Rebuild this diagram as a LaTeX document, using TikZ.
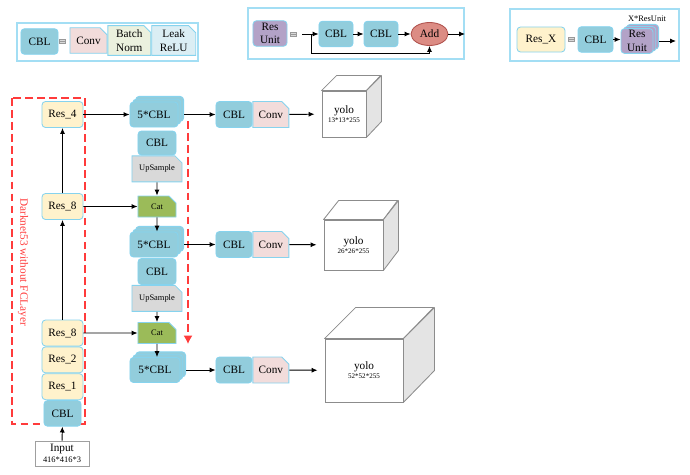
\documentclass[tikz,border=0pt]{standalone}
\usepackage{fontspec}
\setmainfont{Liberation Serif}
\usetikzlibrary{arrows.meta, positioning, calc, shapes.misc, shapes.geometric, shadows}
\definecolor{CblFill}{HTML}{92CDDC}
\definecolor{EdgeBlue}{HTML}{86D3EE}
\definecolor{FrameBlue}{HTML}{A3DEF4}
\definecolor{ResFill}{HTML}{FFF2CC}
\definecolor{ConvFill}{HTML}{F2DCDB}
\definecolor{NormFill}{HTML}{EBF1DE}
\definecolor{ReluFill}{HTML}{DBEEF4}
\definecolor{UnitFill}{HTML}{B3A2C7}
\definecolor{AddFill}{HTML}{DC8C84}
\definecolor{AddEdge}{HTML}{B0524D}
\definecolor{UpFill}{HTML}{D9D9D9}
\definecolor{CatFill}{HTML}{9BBB59}
\definecolor{DashRed}{HTML}{FF3B3B}
\definecolor{CubeSide}{HTML}{E4E4E4}
\definecolor{CubeEdge}{HTML}{8C8C8C}

\begin{document}
\begin{tikzpicture}[
    x=0.025cm,
    y=-0.025cm,
    font=\fontsize{8}{9.5}\selectfont,
    >={Latex[length=4.2pt,width=3.6pt]},
    every node/.style={text=black},
    legendbox/.style={draw=FrameBlue, line width=0.8pt},
    cblbox/.style={draw=EdgeBlue, fill=CblFill, line width=0.6pt, rounded corners=2.5pt, minimum width=0.925cm, minimum height=0.64cm, inner sep=1pt, align=center},
    resbox/.style={draw=EdgeBlue, fill=ResFill, line width=0.6pt, rounded corners=2.5pt, minimum width=1.025cm, minimum height=0.65cm, inner sep=1pt, align=center},
    unitbox/.style={draw=EdgeBlue, fill=UnitFill, line width=0.6pt, rounded corners=2.5pt, minimum width=0.85cm, minimum height=0.64cm, inner sep=1pt, align=center},
    stackbox/.style={cblbox, minimum width=1.2cm, minimum height=0.625cm, double copy shadow={shadow xshift=2pt, shadow yshift=2pt}},
    snipbox/.style={chamfered rectangle, chamfered rectangle corners=north east, chamfered rectangle xsep=2.5pt, chamfered rectangle ysep=2.5pt, draw=EdgeBlue, line width=0.6pt, inner sep=0.5pt, align=center},
    smalltext/.style={font=\fontsize{6}{7}\selectfont},
    addnode/.style={ellipse, draw=AddEdge, fill=AddFill, line width=0.6pt, minimum width=0.925cm, minimum height=0.575cm, inner sep=0pt},
    eqsign/.style={draw=gray!80, fill=gray!30, line width=0.4pt, minimum width=0.16cm, minimum height=0.11cm, inner sep=0pt,
        path picture={\draw[gray!80, line width=0.4pt] (path picture bounding box.west) -- (path picture bounding box.east);}},
    arrowline/.style={->, draw=black, line width=0.7pt},
    reddash/.style={draw=DashRed, line width=1pt, dash pattern=on 5.5pt off 3pt},
    cube/.style={draw=CubeEdge, fill=white, line width=0.6pt, align=center, inner sep=0pt},
    cubeface/.style={draw=CubeEdge, line width=0.6pt, line join=round}
]

\useasboundingbox (0,0) rectangle (690,474);

% legend: CBL
\draw[legendbox] (17,23) rectangle (198,61);
\node[cblbox] (lgCbl) at (39.5,41.5) {CBL};
\node[eqsign] (lgEqA) at (62,41) {};
\node[snipbox, fill=ConvFill, minimum width=0.925cm, minimum height=0.64cm] (lgConv) at (88.5,40.5) {Conv};
\node[snipbox, fill=NormFill, minimum width=1.075cm, minimum height=0.64cm, right=0pt of lgConv] (lgNorm) {Batch\\Norm};
\node[snipbox, fill=ReluFill, minimum width=1.1cm, minimum height=0.64cm, right=0pt of lgNorm] (lgRelu) {Leak\\ReLU};

% legend: Res Unit
\draw[legendbox] (248,8) rectangle (464,59);
\node[unitbox] (lgUnit) at (270,33.5) {Res\\Unit};
\node[eqsign] (lgEqB) at (293,34) {};
\coordinate (lgIn) at (302,34);
\coordinate (lgSplit) at (311,34);
\node[cblbox, minimum width=0.85cm] (lgCblA) at (336,34) {CBL};
\node[cblbox, minimum width=0.85cm] (lgCblB) at (381,34) {CBL};
\node[addnode] (lgAdd) at (429.5,34) {Add};
\coordinate (lgOut) at (465,34);

\draw[arrowline] (lgIn) -- (lgCblA);
\draw[arrowline] (lgCblA) -- (lgCblB);
\draw[arrowline] (lgCblB) -- (lgAdd);
\draw[arrowline] (lgAdd) -- (lgOut);
\draw[arrowline] (lgSplit) -- ++(0,19) -| (lgAdd.south);

% legend: Res_X
\draw[legendbox] (510,9) rectangle (679,61);
\node[resbox, minimum width=1.2cm, minimum height=0.625cm] (lgResX) at (541,39.5) {Res\_X};
\node[eqsign] (lgEqC) at (571,39.5) {};
\node[cblbox, minimum width=0.875cm] (lgCblC) at (595.5,39.5) {CBL};
\node[unitbox, minimum width=0.8cm, minimum height=0.62cm, double copy shadow={shadow xshift=2pt, shadow yshift=1.5pt}] (lgUnits) at (637,41) {Res\\Unit};
\node[smalltext] (lgTimes) at (647,19) {X*ResUnit};
\coordinate (lgOutC) at (676,41);

\draw[arrowline] (lgCblC.east) -- (lgCblC.east -| lgUnits.west);
\draw[arrowline] ([xshift=4pt]lgUnits.east) -- (lgOutC);

% backbone
\draw[reddash] (12,98) rectangle (85,424);
\node[text=DashRed, rotate=-90] (dkLabel) at (23,262) {Darknet53 without FCLayer};

\node[resbox] (res4) at (62.5,114.5) {Res\_4};
\node[resbox] (res8a) at (62.5,206.5) {Res\_8};
\node[resbox] (res8b) at (62.5,333) {Res\_8};
\node[resbox, below=0pt of res8b] (res2) {Res\_2};
\node[resbox, below=0pt of res2] (res1) {Res\_1};
\node[cblbox, below=0pt of res1] (cbl0) {CBL};
\node[draw=gray!75, fill=white, line width=0.7pt, minimum width=1.35cm, minimum height=0.625cm, inner sep=0pt, align=center] (input) at (62,453.5)
{Input\\[-2pt]{\fontsize{6}{7}\selectfont 416*416*3}};

\draw[arrowline] (input) -- (cbl0);
\draw[arrowline] (res8b) -- (res8a);
\draw[arrowline] (res8a) -- (res4);

% neck
\node[stackbox] (five1) at (154,114.5) {5*CBL};
\node[cblbox, minimum width=0.95cm, minimum height=0.6cm] (cbl1) at (157,143) {CBL};
\node[snipbox, fill=UpFill, smalltext, minimum width=1.25cm, minimum height=0.65cm, below=0pt of cbl1] (up1) {UpSample};
\node[snipbox, fill=CatFill, smalltext, minimum width=0.95cm, minimum height=0.525cm] (cat1) at (157,206.5) {Cat};
\node[stackbox] (five2) at (154,244.5) {5*CBL};
\node[cblbox, minimum width=0.95cm, minimum height=0.65cm] (cbl2) at (157,271.5) {CBL};
\node[snipbox, fill=UpFill, smalltext, minimum width=1.25cm, minimum height=0.65cm, below=0pt of cbl2] (up2) {UpSample};
\node[snipbox, fill=CatFill, smalltext, minimum width=0.95cm, minimum height=0.525cm] (cat2) at (157,333) {Cat};
\node[stackbox, minimum width=1.25cm] (five3) at (155,370) {5*CBL};

\draw[arrowline] (res4) -- (five1);
\draw[arrowline] (up1) -- (cat1);
\draw[arrowline] (res8a) -- (cat1);
\draw[arrowline] (cat1) -- (cat1 |- five2.north);
\draw[arrowline] (up2) -- (cat2);
\draw[arrowline] (res8b) -- (cat2);
\draw[arrowline] (cat2) -- (cat2 |- five3.north);

\coordinate (dashTop) at (188,121);
\coordinate (dashEnd) at (188,344);
\draw[reddash, -{Latex[length=6pt,width=6.5pt]}, DashRed] (dashTop) -- (dashEnd);

% heads
\node[cblbox, minimum width=0.9cm, minimum height=0.65cm] (cblR1) at (234,114.5) {CBL};
\node[snipbox, fill=ConvFill, minimum width=0.9cm, minimum height=0.65cm, right=0pt of cblR1] (convR1) {Conv};
\node[cblbox, minimum width=0.9cm, minimum height=0.65cm] (cblR2) at (234,244.5) {CBL};
\node[snipbox, fill=ConvFill, minimum width=0.9cm, minimum height=0.65cm, right=0pt of cblR2] (convR2) {Conv};
\node[cblbox, minimum width=0.9cm, minimum height=0.65cm] (cblR3) at (234,370) {CBL};
\node[snipbox, fill=ConvFill, minimum width=0.9cm, minimum height=0.65cm, right=0pt of cblR3] (convR3) {Conv};

\node[cube, minimum width=1.1cm, minimum height=1.15cm] (yolo1) at (344,114)
{yolo\\[-3pt]{\fontsize{5}{6}\selectfont 13*13*255}};
\filldraw[cubeface, fill=white] (yolo1.north west) -- ++(15,-15) -- ++(44,0) -- (yolo1.north east) -- cycle;
\filldraw[cubeface, fill=CubeSide] (yolo1.north east) -- ++(15,-15) -- ++(0,46) -- (yolo1.south east) -- cycle;

\node[cube, minimum width=1.475cm, minimum height=1.25cm] (yolo2) at (353.5,245)
{yolo\\[-3pt]{\fontsize{5}{6}\selectfont 26*26*255}};
\filldraw[cubeface, fill=white] (yolo2.north west) -- ++(15,-19) -- ++(59,0) -- (yolo2.north east) -- cycle;
\filldraw[cubeface, fill=CubeSide] (yolo2.north east) -- ++(15,-19) -- ++(0,50) -- (yolo2.south east) -- cycle;

\node[cube, minimum width=1.95cm, minimum height=1.575cm] (yolo3) at (364,370.5)
{yolo\\[-3pt]{\fontsize{5}{6}\selectfont 52*52*255}};
\filldraw[cubeface, fill=white] (yolo3.north west) -- ++(31,-31) -- ++(78,0) -- (yolo3.north east) -- cycle;
\filldraw[cubeface, fill=CubeSide] (yolo3.north east) -- ++(31,-31) -- ++(0,63) -- (yolo3.south east) -- cycle;

\draw[arrowline] ([xshift=4pt]five1.east) -- (cblR1);
\draw[arrowline] ([xshift=4pt]five2.east) -- (cblR2);
\draw[arrowline] ([xshift=4pt]five3.east) -- (cblR3);
\draw[arrowline, shorten >=5pt] (convR1) -- (yolo1);
\draw[arrowline, shorten >=5pt] (convR2) -- (yolo2);
\draw[arrowline, shorten >=5pt] (convR3) -- (yolo3);

\end{tikzpicture}
\end{document}
